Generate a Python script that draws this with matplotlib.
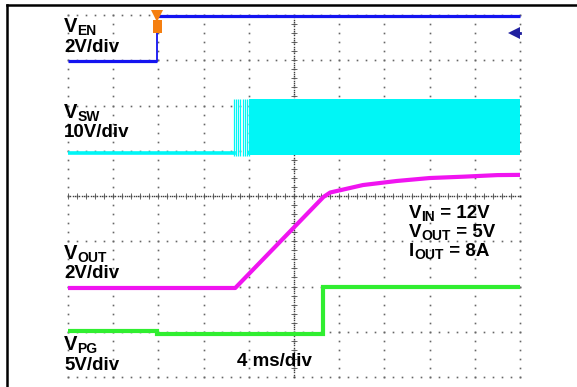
import numpy as np
import matplotlib
matplotlib.use("Agg")
import matplotlib.pyplot as plt
from matplotlib.lines import Line2D
from matplotlib.patches import Rectangle

# ---------------- data (time in ms, voltages in V) ----------------
t_span = [0.0, 40.0]          # 10 div x 4 ms/div
n_xdiv, n_ydiv = 10, 8

# EN channel (2 V/div)
en_t = [0.0, 7.9, 7.9, 40.0]
en_v = [0.0, 0.0, 2.0, 2.0]
en_off, en_scale = 6.98, 2.0
en_trig_level = 1.25

# SW channel (10 V/div)
sw_low_t = [0.0, 14.7]
sw_low_v = [0.0, 0.0]
sw_burst_t = [14.70, 14.85, 15.05, 15.25, 15.45, 15.65, 15.85, 16.0]
sw_band_t = [16.0, 40.0]
sw_high = 12.0
sw_off, sw_scale = 4.95, 10.0

# VOUT channel (2 V/div)
vo_t = [0.0, 14.8, 22.6, 23.2, 26.1, 29.1, 32.0, 35.0, 38.0, 40.0]
vo_v = [0.0, 0.0, 4.02, 4.22, 4.55, 4.73, 4.86, 4.92, 4.99, 5.0]
vo_off, vo_scale = 1.967, 2.0

# PG channel (5 V/div)
pg_t = [0.0, 7.9, 7.9, 22.55, 22.55, 40.0]
pg_v = [0.0, 0.0, -0.35, -0.35, 4.85, 4.85]
pg_off, pg_scale = 1.017, 5.0

# ---------------- figure ----------------
W, H = 577, 387
fig = plt.figure(figsize=(W / 100, H / 100), dpi=100)
fig.patch.set_facecolor("white")
gx0, gx1, gy0, gy1 = 68, 520, 15, 377
ax = fig.add_axes([gx0 / W, 1 - gy1 / H, (gx1 - gx0) / W, (gy1 - gy0) / H])
ax.set_xlim(*t_span)
ax.set_ylim(0, n_ydiv)
ax.axis("off")

tdiv = (t_span[1] - t_span[0]) / n_xdiv
grid_c = "#666666"

# graticule dots
for i in range(n_xdiv + 1):
    ys = np.arange(0, n_ydiv + 0.001, 0.2)
    ax.plot(np.full_like(ys, t_span[0] + i * tdiv), ys, ls="none", marker="s",
            ms=1.2, mew=0, color=grid_c, clip_on=False, zorder=1)
for j in range(n_ydiv + 1):
    xs = np.arange(t_span[0], t_span[1] + 0.001, 0.2 * tdiv)
    ax.plot(xs, np.full_like(xs, j), ls="none", marker="s",
            ms=1.2, mew=0, color=grid_c, clip_on=False, zorder=1)
# center axes with ticks
tc = (t_span[0] + t_span[1]) / 2
yc = n_ydiv / 2
xs = np.arange(t_span[0], t_span[1] + 0.001, 0.05 * tdiv)
ax.plot(xs, np.full_like(xs, yc), ls="none", marker="s", ms=1.0, mew=0, color="#404040", zorder=1)
ys = np.arange(0, n_ydiv + 0.001, 0.05)
ax.plot(np.full_like(ys, tc), ys, ls="none", marker="s", ms=1.0, mew=0, color="#404040", zorder=1)
xt = np.arange(t_span[0], t_span[1] + 0.001, 0.2 * tdiv)
ax.vlines(xt, yc - 0.06, yc + 0.06, color="#505050", lw=0.6, zorder=1)
yt = np.arange(0, n_ydiv + 0.001, 0.2)
ax.hlines(yt, tc - 0.06 * tdiv, tc + 0.06 * tdiv, color="#505050", lw=0.6, zorder=1)

# ---------------- traces ----------------
en_col, sw_col, vo_col, pg_col = "#1414F0", "#00F6F6", "#F014F0", "#30EE30"

en_y = en_off + np.array(en_v) / en_scale
ax.plot([en_t[0], en_t[1]], en_y[:2], color=en_col, lw=2.3, solid_capstyle="butt", zorder=4)
ax.plot([en_t[1], en_t[2]], en_y[1:3], color=en_col, lw=1.3, zorder=4)
ax.plot([en_t[2], en_t[3]], en_y[2:], color=en_col, lw=2.3, solid_capstyle="butt",
        clip_on=False, zorder=4)

sw_lo = sw_off
sw_hi = sw_off + sw_high / sw_scale
ax.plot(sw_low_t, sw_lo + np.array(sw_low_v) / sw_scale, color=sw_col, lw=2.6, zorder=3)
ax.vlines(sw_burst_t, sw_lo - 0.06, sw_hi, color=sw_col, lw=0.9, zorder=3)
ax.fill_between(sw_band_t, sw_lo - 0.05, sw_hi, color=sw_col, lw=0, zorder=3)
ax.plot(sw_band_t, [sw_lo, sw_lo], color=sw_col, lw=2.6, zorder=3)

ax.plot(vo_t, vo_off + np.array(vo_v) / vo_scale, color=vo_col, lw=3.0, zorder=3)
ax.plot(pg_t, pg_off + np.array(pg_v) / pg_scale, color=pg_col, lw=3.0,
        solid_joinstyle="miter", zorder=3)

# trigger position marker & trigger level arrow
t_trig = en_t[1]
orange = "#F57F10"
ax.plot([t_trig], [n_ydiv - 0.02], marker="v", ms=8, mew=0, color=orange,
        clip_on=False, zorder=6)
bw, bh = 0.80, 0.28
ax.add_patch(Rectangle((t_trig - bw / 2, 7.60), bw, bh, fc=orange, ec="none",
                       clip_on=False, zorder=6))
lvl = en_off + en_trig_level / en_scale
ax.plot([t_span[1] - 0.5, t_span[1]], [lvl, lvl], color="#2020A0", lw=2.0, clip_on=False, zorder=6)
ax.plot([t_span[1] - 0.55], [lvl], marker="<", ms=8, mew=0, color="#2020A0",
        clip_on=False, zorder=6)

# ---------------- frame ----------------
fig.add_artist(Line2D([7 / W, 1], [1 - 5 / H, 1 - 5 / H], transform=fig.transFigure,
                      color="black", lw=1.8))
fig.add_artist(Line2D([7 / W, 7 / W], [0, 1 - 5 / H], transform=fig.transFigure,
                      color="black", lw=1.8))

# ---------------- text ----------------
renderer = fig.canvas.get_renderer()
FAM = "Liberation Sans"


def seg_text(x_px, y_px, parts):
    x = x_px
    for s, size, dy in parts:
        t = fig.text(x / W, 1 - (y_px + dy) / H, s, fontsize=size, fontweight="bold",
                     family=FAM, va="baseline", ha="left", color="black", zorder=10)
        bb = t.get_window_extent(renderer)
        x += bb.width


big, mid, sub = 14.5, 13.5, 10
seg_text(64, 32, [("V", big, 0), ("EN", sub, 3)])
seg_text(64, 52, [("2V/div", mid, 0)])
seg_text(64, 118, [("V", big, 0), ("SW", sub, 3)])
seg_text(64, 137, [("10V/div", mid, 0)])
seg_text(64, 259, [("V", big, 0), ("OUT", sub, 3)])
seg_text(64, 278, [("2V/div", mid, 0)])
seg_text(64, 350, [("V", big, 0), ("PG", sub, 3)])
seg_text(64, 370, [("5V/div", mid, 0)])
seg_text(237, 366, [("4 ms/div", mid, 0)])
seg_text(409, 218, [("V", mid, 0), ("IN", sub, 3), (" = 12V", mid, 0)])
seg_text(409, 237, [("V", mid, 0), ("OUT", sub, 3), (" = 5V", mid, 0)])
seg_text(409, 256, [("I", mid, 0), ("OUT", sub, 3), (" = 8A", mid, 0)])

fig.savefig("out.png", dpi=100, facecolor="white")
